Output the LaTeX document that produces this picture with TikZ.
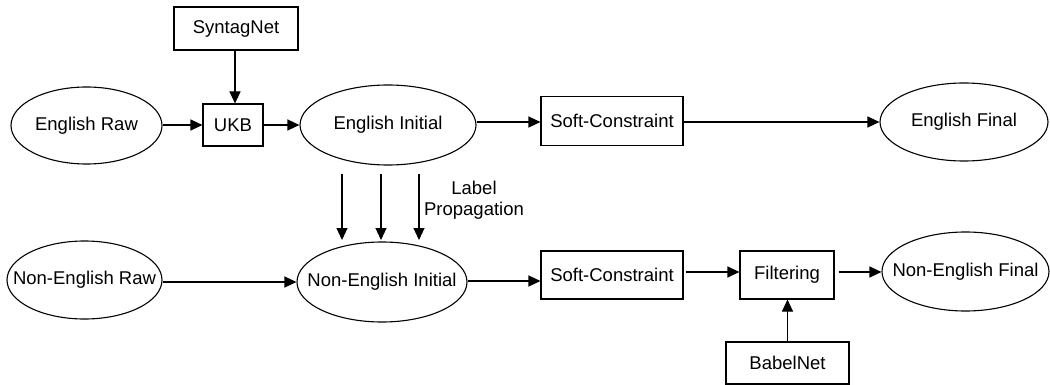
\documentclass[tikz,border=0pt]{standalone}
\usepackage{fontspec}
\setmainfont{Liberation Sans}
\usetikzlibrary{shapes.geometric,arrows.meta,calc}
\newcommand\ctrtext[1]{\makebox[0pt]{#1}}
\begin{document}
\begin{tikzpicture}[x=1pt,y=-1pt,
  every node/.style={font=\fontsize{18.5}{21}\selectfont, inner sep=0pt},
  lw/.style={line width=1.1pt},
  stage/.style={lw, draw, ellipse},
  proc/.style={lw, draw, rectangle},
  flow/.style={lw, -{Triangle[length=12pt,width=11pt]}}]
\useasboundingbox (0,0) rectangle (1050,385);

% English pipeline
\node[proc, minimum width=124, minimum height=43] (syn) at (236,28.5) {SyntagNet};
\node[proc, minimum width=60, minimum height=42] (ukb) at (233,125) {UKB};
\node[stage, minimum width=151, minimum height=77] (er) at (86.5,125.5) {\ctrtext{English Raw}};
\node[stage, minimum width=176, minimum height=80] (ei) at (388,125) {\ctrtext{English Initial}};
\node[proc, minimum width=142, minimum height=49] (sc1) at (612,121) {Soft-Constraint};
\node[stage, minimum width=168, minimum height=78] (ef) at (964,122) {\ctrtext{English Final}};

% Non-English pipeline
\node[stage, minimum width=155, minimum height=78] (ner) at (84.5,280) {\ctrtext{Non-English Raw}};
\node[stage, minimum width=170, minimum height=80] (nei) at (382,282) {\ctrtext{Non-English Initial}};
\node[proc, minimum width=142, minimum height=48] (sc2) at (612,275) {Soft-Constraint};
\node[proc, minimum width=94, minimum height=48] (filt) at (787,275) {Filtering};
\node[stage, minimum width=167, minimum height=79] (nef) at (965.5,271.5) {\ctrtext{Non-English Final}};
\node[proc, minimum width=123, minimum height=42] (bab) at (787.5,363) {BabelNet};

% label propagation
\node[align=center] (lp) at (474,200.5) {Label\\Propagation};
\coordinate (lp1s) at (342,174); \coordinate (lp1e) at (342,240);
\coordinate (lp2s) at (381,174); \coordinate (lp2e) at (381,240);
\coordinate (lp3s) at (419,174); \coordinate (lp3e) at (419,240);

% connectors, English row
\draw[flow] (syn.south -| ukb.north) ++(2,0) -- ($(ukb.north)+(2,0)$);
\draw[flow] (er.east |- ukb.west) -- (ukb.west);
\draw[flow] (ukb.east) -- (ei.west);
\draw[flow] (ei.east |- 0,122) -- (sc1.west |- 0,122);
\draw[flow] (sc1.east |- 0,122) -- (ef.west);

% connectors, label propagation
\draw[flow] (lp1s) -- (lp1e);
\draw[flow] (lp2s) -- (lp2e);
\draw[flow] (lp3s) -- (lp3e);

% connectors, Non-English row
\draw[flow] (ner.east |- nei.west) -- (nei.west);
\draw[flow] (nei.east |- 0,281) -- (sc2.west |- 0,281);
\draw[flow] ($(sc2.east |- 0,272)+(2,0)$) -- (filt.west |- 0,272);
\draw[flow] ($(filt.east |- 0,272)+(4,0)$) -- (nef.west |- 0,272);
\draw[flow] (bab.north) -- (bab.north |- filt.south);
\end{tikzpicture}
\end{document}
